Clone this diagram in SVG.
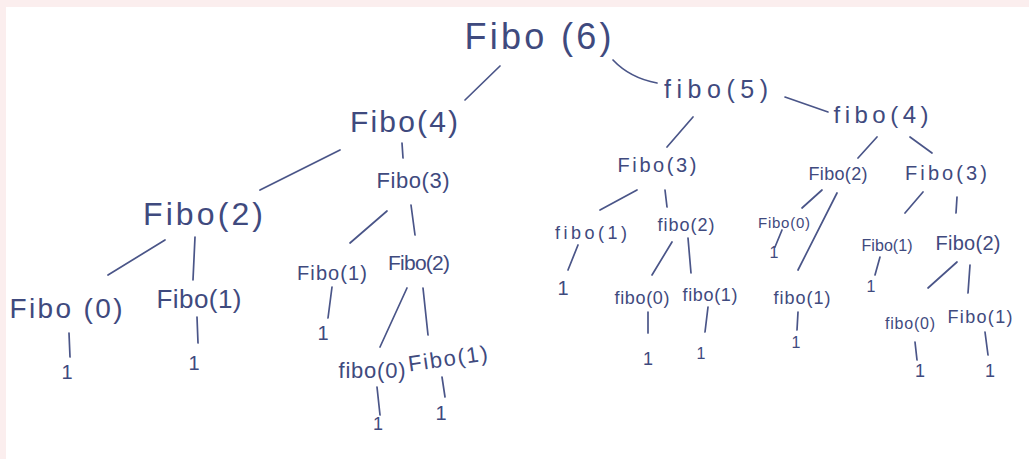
<svg xmlns="http://www.w3.org/2000/svg" width="1029" height="459" viewBox="0 0 1029 459">
<style>
text{font-family:"Liberation Sans","DejaVu Sans",sans-serif;fill:#3f4a7e;text-anchor:middle;}
.c path,.c line{stroke:#4a5588;stroke-width:1.7;fill:none;stroke-linecap:round;}
</style>
<rect x="0" y="0" width="1029" height="459" fill="#ffffff"/>
<rect x="0" y="0" width="1029" height="7" fill="#fbeeee"/>
<rect x="0" y="0" width="6" height="459" fill="#fbeeee"/>
<g class="c">
<line x1="500" y1="66" x2="465" y2="100"/>
<path d="M613 60 Q630 78 657 83"/>
<path d="M785 97 Q805 104 828 112"/>
<line x1="340" y1="150" x2="260" y2="190"/>
<line x1="402" y1="143" x2="403" y2="158"/>
<line x1="165" y1="240" x2="108" y2="275"/>
<line x1="195" y1="237" x2="193" y2="280"/>
<line x1="69" y1="333" x2="70" y2="357"/>
<line x1="197" y1="317" x2="198" y2="343"/>
<line x1="387" y1="211" x2="350" y2="243"/>
<line x1="411" y1="205" x2="415" y2="235"/>
<line x1="332" y1="287" x2="328" y2="318"/>
<line x1="407" y1="288" x2="380" y2="347"/>
<line x1="423" y1="288" x2="428" y2="335"/>
<line x1="377" y1="387" x2="380" y2="415"/>
<line x1="442" y1="377" x2="445" y2="397"/>
<line x1="693" y1="117" x2="667" y2="147"/>
<line x1="877" y1="137" x2="858" y2="158"/>
<line x1="910" y1="137" x2="932" y2="153"/>
<line x1="637" y1="190" x2="600" y2="210"/>
<line x1="665" y1="190" x2="667" y2="207"/>
<line x1="822" y1="190" x2="802" y2="208"/>
<line x1="837" y1="193" x2="798" y2="270"/>
<line x1="923" y1="192" x2="905" y2="213"/>
<line x1="957" y1="197" x2="956" y2="213"/>
<line x1="578" y1="245" x2="568" y2="270"/>
<line x1="672" y1="242" x2="652" y2="275"/>
<line x1="688" y1="238" x2="691" y2="273"/>
<line x1="648" y1="312" x2="648" y2="333"/>
<line x1="708" y1="307" x2="705" y2="332"/>
<line x1="782" y1="230" x2="775" y2="247"/>
<line x1="798" y1="312" x2="797" y2="330"/>
<line x1="880" y1="257" x2="875" y2="275"/>
<line x1="957" y1="262" x2="928" y2="288"/>
<line x1="970" y1="265" x2="968" y2="293"/>
<line x1="915" y1="342" x2="917" y2="360"/>
<line x1="985" y1="332" x2="988" y2="355"/>
</g>
<g id="n-fibo6"><text x="538" y="49" font-size="36" textLength="147" lengthAdjust="spacing">Fibo (6)</text></g>
<g id="n-fibo5"><text x="716" y="98" font-size="25" textLength="104" lengthAdjust="spacing">fibo(5)</text></g>
<g id="n-fibo4a"><text x="404" y="132" font-size="30" textLength="108" lengthAdjust="spacing">Fibo(4)</text></g>
<g id="n-fibo4b"><text x="881" y="123" font-size="24" textLength="95" lengthAdjust="spacing">fibo(4)</text></g>
<g id="n-fibo3a"><text x="413" y="188" font-size="22" textLength="73" lengthAdjust="spacing">Fibo(3)</text></g>
<g id="n-fibo2a"><text x="203" y="225" font-size="32" textLength="120" lengthAdjust="spacing">Fibo(2)</text></g>
<g id="n-fibo0a"><text x="66" y="318" font-size="28" textLength="113" lengthAdjust="spacing">Fibo (0)</text></g>
<g id="n-fibo1a"><text x="199" y="308" font-size="26" textLength="85" lengthAdjust="spacing">Fibo(1)</text></g>
<g id="n-1a"><text x="67" y="379" font-size="20">1</text></g>
<g id="n-1b"><text x="194" y="370" font-size="20">1</text></g>
<g id="n-fibo1b"><text x="332" y="280" font-size="20" textLength="70" lengthAdjust="spacing">Fibo(1)</text></g>
<g id="n-fibo2b"><text x="419" y="270" font-size="21" textLength="62" lengthAdjust="spacing">Fibo(2)</text></g>
<g id="n-1c"><text x="323" y="340" font-size="20">1</text></g>
<g id="n-fibo0b"><text x="372" y="378" font-size="22" textLength="67" lengthAdjust="spacing">fibo(0)</text></g>
<g id="n-fibo1c"><text x="448" y="366" font-size="22" textLength="80" lengthAdjust="spacing" transform="rotate(-8 448 360)">Fibo(1)</text></g>
<g id="n-1d"><text x="378" y="430" font-size="18">1</text></g>
<g id="n-1e"><text x="441" y="420" font-size="20">1</text></g>
<g id="n-fibo3b"><text x="657" y="172" font-size="20" textLength="79" lengthAdjust="spacing">Fibo(3)</text></g>
<g id="n-fibo2c"><text x="838" y="180" font-size="18" textLength="59" lengthAdjust="spacing">Fibo(2)</text></g>
<g id="n-fibo3c"><text x="946" y="180" font-size="20" textLength="82" lengthAdjust="spacing">Fibo(3)</text></g>
<g id="n-fibo1d"><text x="591" y="239" font-size="18" textLength="72" lengthAdjust="spacing">fibo(1)</text></g>
<g id="n-fibo2d"><text x="686" y="231" font-size="18" textLength="57" lengthAdjust="spacing">fibo(2)</text></g>
<g id="n-fibo0c"><text x="784" y="228" font-size="15" textLength="52" lengthAdjust="spacing">Fibo(0)</text></g>
<g id="n-1f"><text x="563" y="295" font-size="20">1</text></g>
<g id="n-fibo0d"><text x="642" y="304" font-size="18" textLength="55" lengthAdjust="spacing">fibo(0)</text></g>
<g id="n-fibo1e"><text x="710" y="301" font-size="18" textLength="55" lengthAdjust="spacing">fibo(1)</text></g>
<g id="n-1g"><text x="648" y="365" font-size="18">1</text></g>
<g id="n-1h"><text x="701" y="359" font-size="16">1</text></g>
<g id="n-1i"><text x="774" y="258" font-size="16">1</text></g>
<g id="n-fibo1f"><text x="802" y="304" font-size="18" textLength="57" lengthAdjust="spacing">fibo(1)</text></g>
<g id="n-1j"><text x="796" y="348" font-size="16">1</text></g>
<g id="n-fibo1g"><text x="887" y="251" font-size="16" textLength="51" lengthAdjust="spacing">Fibo(1)</text></g>
<g id="n-fibo2e"><text x="968" y="250" font-size="20" textLength="65" lengthAdjust="spacing">Fibo(2)</text></g>
<g id="n-1k"><text x="871" y="292" font-size="16">1</text></g>
<g id="n-fibo0e"><text x="910" y="329" font-size="16" textLength="50" lengthAdjust="spacing">fibo(0)</text></g>
<g id="n-fibo1h"><text x="980" y="323" font-size="18" textLength="65" lengthAdjust="spacing">Fibo(1)</text></g>
<g id="n-1l"><text x="920" y="377" font-size="18">1</text></g>
<g id="n-1m"><text x="990" y="377" font-size="18">1</text></g>
</svg>
